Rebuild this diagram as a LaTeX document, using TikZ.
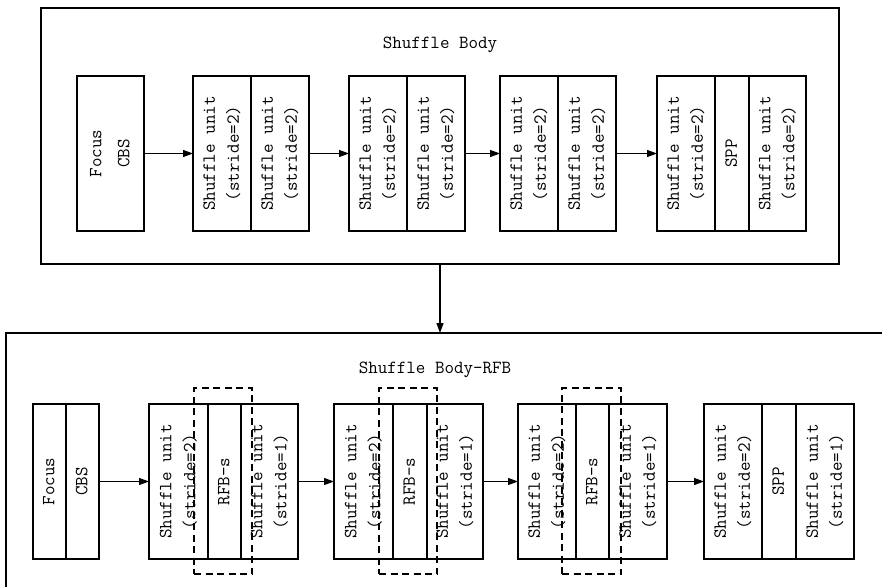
\documentclass[tikz,border=0pt]{standalone}
\usepackage{fontspec}
\usepackage{graphicx}
\usetikzlibrary{arrows.meta}
% text set upright along a column, reading bottom to top
\newcommand{\uprot}[1]{\rotatebox{90}{\begin{tabular}{@{}c@{}}#1\end{tabular}}}
\begin{document}
\begin{tikzpicture}[x=1pt,y=-1pt,
  every node/.style={font=\ttfamily\fontsize{18.5}{24}\selectfont, inner sep=0pt, outer sep=0pt},
  seg/.style={draw, line width=1.2pt, minimum height=155pt, minimum width=#1, anchor=north west},
  frame/.style={draw, line width=1.2pt, anchor=north west},
  group/.style={draw, dash pattern=on 7pt off 4.5pt, line width=1.2pt, anchor=north west},
  flow/.style={-{Triangle[length=10pt,width=7pt]}, line width=1.2pt}]
\useasboundingbox (0,0) rectangle (882,586);
\clip (0,0) rectangle (882,586);

% ---------- upper stage ----------
\node[frame, minimum width=798pt, minimum height=256pt] (topbox) at (41,8) {};
\node (toptitle) at (440,45) {Shuffle Body};

\node[seg=67pt] (tfc) at (77,76) {\uprot{Focus\\[4pt]CBS}};
\node[seg=58pt] (t1a) at (193,76) {\uprot{Shuffle unit\\(stride=2)}};
\node[seg=58pt] (t1b) at (251,76) {\uprot{Shuffle unit\\(stride=2)}};
\node[seg=58pt] (t2a) at (349,76) {\uprot{Shuffle unit\\(stride=2)}};
\node[seg=58pt] (t2b) at (407,76) {\uprot{Shuffle unit\\(stride=2)}};
\node[seg=58pt] (t3a) at (500,76) {\uprot{Shuffle unit\\(stride=2)}};
\node[seg=58pt] (t3b) at (558,76) {\uprot{Shuffle unit\\(stride=2)}};
\node[seg=58pt] (t4a) at (657,76) {\uprot{Shuffle unit\\(stride=2)}};
\node[seg=34pt] (t4b) at (715,76) {\uprot{SPP}};
\node[seg=57pt] (t4c) at (749,76) {\uprot{Shuffle unit\\(stride=2)}};

\draw[flow] (tfc) -- (t1a);
\draw[flow] (t1b) -- (t2a);
\draw[flow] (t2b) -- (t3a);
\draw[flow] (t3b) -- (t4a);

% ---------- lower stage ----------
\node[frame, minimum width=900pt, minimum height=300pt] (botbox) at (6,333) {};
\node (bottitle) at (435,370) {Shuffle Body-RFB};

\draw[flow] (topbox.south) -- (topbox.south |- botbox.north);

\node[seg=33pt] (bf) at (33,404) {\uprot{Focus}};
\node[seg=33pt] (bc) at (66,404) {\uprot{CBS}};

\node[seg=59pt] (b1a) at (149,404) {\uprot{Shuffle unit\\(stride=2)}};
\node[seg=33pt] (b1b) at (208,404) {\uprot{RFB-s}};
\node[seg=57pt] (b1c) at (241,404) {\uprot{Shuffle unit\\(stride=1)}};
\node[group, minimum width=58pt, minimum height=186pt] (g1) at (194,388) {};

\node[seg=59pt] (b2a) at (334,404) {\uprot{Shuffle unit\\(stride=2)}};
\node[seg=34pt] (b2b) at (393,404) {\uprot{RFB-s}};
\node[seg=56pt] (b2c) at (427,404) {\uprot{Shuffle unit\\(stride=1)}};
\node[group, minimum width=58pt, minimum height=186pt] (g2) at (379,388) {};

\node[seg=58pt] (b3a) at (518,404) {\uprot{Shuffle unit\\(stride=2)}};
\node[seg=33pt] (b3b) at (576,404) {\uprot{RFB-s}};
\node[seg=58pt] (b3c) at (609,404) {\uprot{Shuffle unit\\(stride=1)}};
\node[group, minimum width=59pt, minimum height=186pt] (g3) at (562,388) {};

\node[seg=58pt] (b4a) at (704,404) {\uprot{Shuffle unit\\(stride=2)}};
\node[seg=34pt] (b4b) at (762,404) {\uprot{SPP}};
\node[seg=58pt] (b4c) at (796,404) {\uprot{Shuffle unit\\(stride=1)}};

\draw[flow] (bc) -- (b1a);
\draw[flow] (b1c) -- (b2a);
\draw[flow] (b2c) -- (b3a);
\draw[flow] (b3c) -- (b4a);
\end{tikzpicture}
\end{document}
